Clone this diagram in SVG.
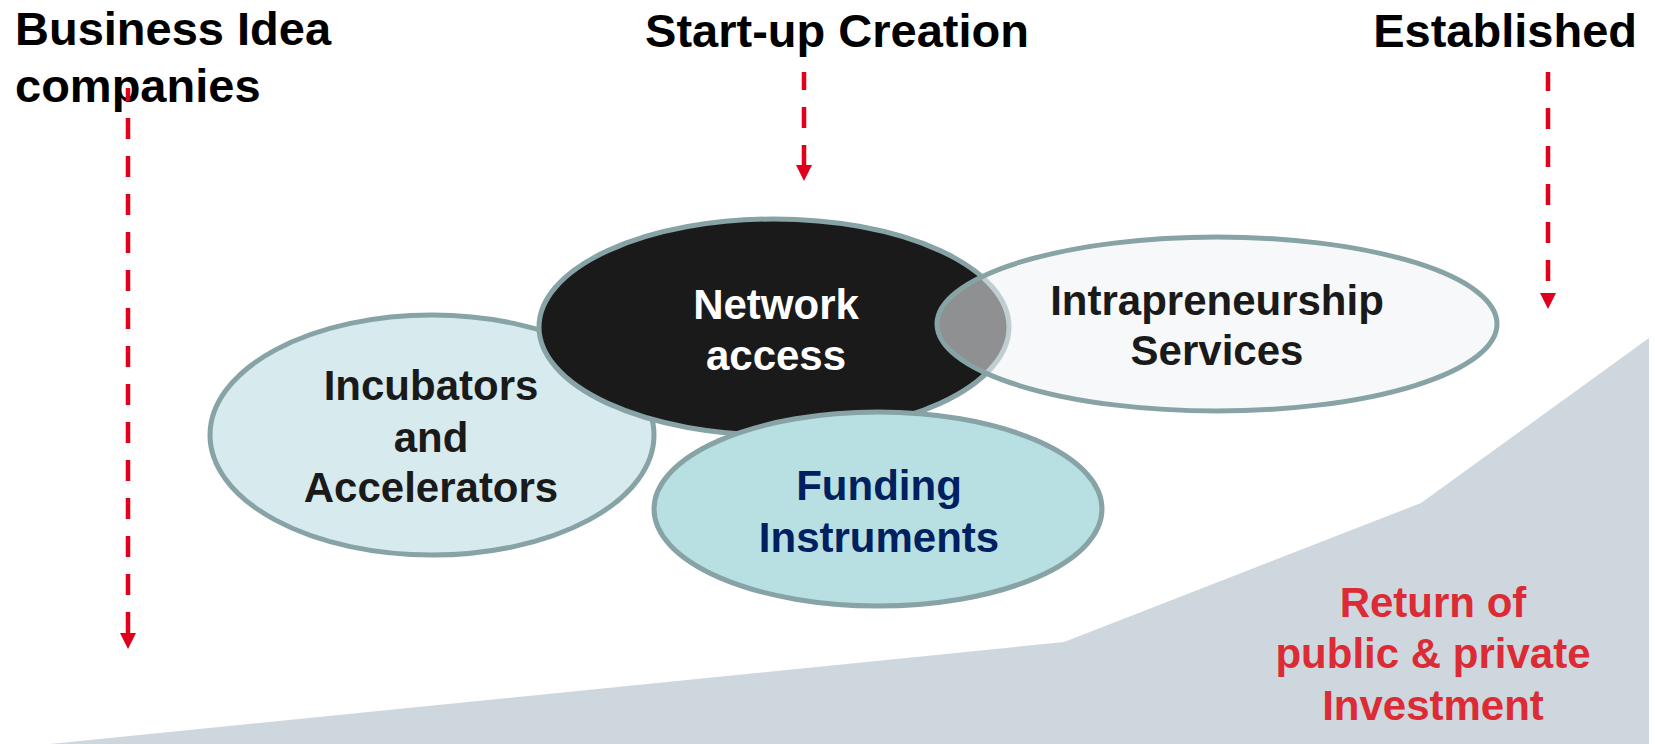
<svg xmlns="http://www.w3.org/2000/svg" width="1655" height="744" viewBox="0 0 1655 744">
<style>
.hd{font-family:"Liberation Sans",Arial,sans-serif;font-weight:bold;font-size:47px;fill:#000}
.lb{font-family:"Liberation Sans",Arial,sans-serif;font-weight:bold;font-size:42px;text-anchor:middle}
.el{stroke:#87a3a6;stroke-width:5}
.dash{stroke:#e0001b;stroke-width:4.5;stroke-dasharray:21 17;fill:none}
</style>
<defs>
<path id="head" d="M-8,0 L8,0 L0,16 Z" fill="#e0001b"/>
</defs>
<rect width="1655" height="744" fill="#fff"/>
<polygon id="ramp" points="50,744 1064,642 1421,503 1649,338 1649,744" fill="#cfd7de"/>
<text class="hd" x="15" y="45">Business Idea</text>
<text class="hd" x="15" y="102">companies</text>
<text class="hd" x="837" y="47" text-anchor="middle">Start-up Creation</text>
<text class="hd" x="1637" y="47" text-anchor="end">Established</text>
<g id="connectors">
<line class="dash" x1="128" y1="633" x2="128" y2="88"/>
<use href="#head" x="128" y="633"/>
<line class="dash" x1="804" y1="166" x2="804" y2="72"/>
<use href="#head" x="804" y="165"/>
<line class="dash" x1="1548" y1="281" x2="1548" y2="72"/>
<use href="#head" x="1548" y="293"/>
</g>
<g id="incubators">
<ellipse class="el" cx="432" cy="435" rx="222" ry="120" fill="#d7ebee"/>
<text class="lb" x="431" y="400" fill="#1a1a1a">Incubators</text>
<text class="lb" x="431" y="452" fill="#1a1a1a">and</text>
<text class="lb" x="431" y="502" fill="#1a1a1a">Accelerators</text>
</g>
<g id="network">
<ellipse class="el" cx="774" cy="327" rx="235" ry="108" fill="#1a1a1a"/>
<text class="lb" x="776" y="319" fill="#fff">Network</text>
<text class="lb" x="776" y="370" fill="#fff">access</text>
</g>
<g id="funding">
<ellipse class="el" cx="878" cy="509" rx="224" ry="97" fill="#b8dfe2"/>
<text class="lb" x="879" y="500" fill="#002060">Funding</text>
<text class="lb" x="879" y="552" fill="#002060">Instruments</text>
</g>
<g id="intrapreneurship">
<ellipse class="el" cx="1217" cy="324" rx="280" ry="87" fill="rgb(238,243,244)" fill-opacity="0.55"/>
<text class="lb" x="1217" y="315" fill="#1a1a1a">Intrapreneurship</text>
<text class="lb" x="1217" y="365" fill="#1a1a1a">Services</text>
</g>
<g id="return">
<text class="lb" x="1433" y="617" fill="#dc2b35">Return of</text>
<text class="lb" x="1433" y="668" fill="#dc2b35">public &amp; private</text>
<text class="lb" x="1433" y="720" fill="#dc2b35">Investment</text>
</g>
</svg>
